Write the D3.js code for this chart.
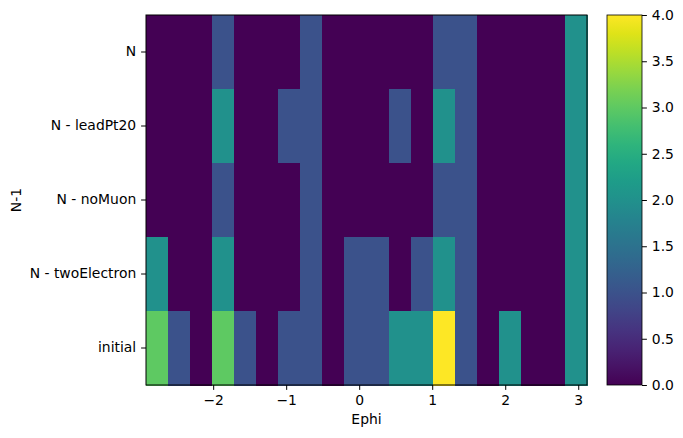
<!DOCTYPE html>
<html>
<head>
<meta charset="utf-8">
<script src="https://cdn.jsdelivr.net/npm/d3@7"></script>
<style>
  body { margin: 0; background: #fff; }
  svg text { font-family: "DejaVu Sans", sans-serif; font-size: 13.9px; fill: #000; }
</style>
</head>
<body>
<div id="chart"></div>
<script>
// N-1 categories, top to bottom
const categories = ["N", "N - leadPt20", "N - noMuon", "N - twoElectron", "initial"];

// Ephi histogram range (20 bins)
const xMin = -2.92;
const xMax = 3.12;
const nBins = 20;

// counts per bin for each category
const countsN           = [0,0,0,1,0,0,0,1,0,0,0,0,0,1,1,0,0,0,0,2];
const countsLeadPt20    = [0,0,0,2,0,0,1,1,0,0,0,1,0,2,1,0,0,0,0,2];
const countsNoMuon      = [0,0,0,1,0,0,0,1,0,0,0,0,0,1,1,0,0,0,0,2];
const countsTwoElectron = [2,0,0,2,0,0,0,1,0,1,1,0,1,2,1,0,0,0,0,2];
const countsInitial     = [3,1,0,3,1,0,1,1,0,1,1,2,2,4,1,0,2,0,0,2];

const xTicks = [-2, -1, 0, 1, 2, 3];
const colorTicks = [0, 0.5, 1, 1.5, 2, 2.5, 3, 3.5, 4];

const rows = [countsN, countsLeadPt20, countsNoMuon, countsTwoElectron, countsInitial];

const width = 683, height = 438;
const plot = { left: 146, right: 587, top: 15, bottom: 385 };
const cbar = { left: 607, right: 642 };

const svg = d3.select('#chart').append('svg')
  .attr('width', width)
  .attr('height', height);

const x = d3.scaleLinear().domain([xMin, xMax]).range([plot.left, plot.right]);
const y = d3.scaleBand().domain(categories).range([plot.top, plot.bottom]).padding(0);
const color = d3.scaleSequential(d3.interpolateViridis).domain([0, 4]);

const binW = (xMax - xMin) / nBins;

// flatten into cells
const cells = [];
rows.forEach((vals, i) => {
  vals.forEach((v, j) => {
    cells.push({ cat: categories[i], x0: xMin + j * binW, x1: xMin + (j + 1) * binW, v: v });
  });
});

svg.append('g')
  .selectAll('rect')
  .data(cells)
  .join('rect')
  .attr('x', d => x(d.x0))
  .attr('y', d => y(d.cat))
  .attr('width', d => x(d.x1) - x(d.x0) + 0.5)
  .attr('height', y.bandwidth() + 0.5)
  .attr('fill', d => color(d.v))
  .attr('shape-rendering', 'crispEdges');

// frame
svg.append('rect')
  .attr('x', plot.left)
  .attr('y', plot.top)
  .attr('width', plot.right - plot.left)
  .attr('height', plot.bottom - plot.top)
  .attr('fill', 'none')
  .attr('stroke', '#000')
  .attr('stroke-width', 1);

// x axis
const xAxis = svg.append('g')
  .attr('transform', `translate(0,${plot.bottom})`)
  .call(d3.axisBottom(x).tickValues(xTicks).tickSize(4.9).tickPadding(4.9)
    .tickFormat(d => d < 0 ? '\u2212' + Math.abs(d) : d));
xAxis.select('.domain').remove();
xAxis.selectAll('text').attr('font-size', null);

// y axis
const yAxis = svg.append('g')
  .attr('transform', `translate(${plot.left},0)`)
  .call(d3.axisLeft(y).tickSize(4.9).tickPadding(4.9));
yAxis.select('.domain').remove();
yAxis.selectAll('text').attr('font-size', null);

// axis labels
svg.append('text')
  .attr('x', (plot.left + plot.right) / 2)
  .attr('y', 424)
  .attr('text-anchor', 'middle')
  .text('Ephi');

svg.append('text')
  .attr('transform', `translate(21,${(plot.top + plot.bottom) / 2}) rotate(-90)`)
  .attr('text-anchor', 'middle')
  .text('N-1');

// colorbar
const defs = svg.append('defs');
const grad = defs.append('linearGradient')
  .attr('id', 'cbar-grad')
  .attr('x1', 0).attr('y1', 1).attr('x2', 0).attr('y2', 0);
d3.range(0, 1.0001, 0.05).forEach(t => {
  grad.append('stop').attr('offset', t).attr('stop-color', d3.interpolateViridis(t));
});

const cy = d3.scaleLinear().domain([0, 4]).range([plot.bottom, plot.top]);

svg.append('rect')
  .attr('x', cbar.left)
  .attr('y', plot.top)
  .attr('width', cbar.right - cbar.left)
  .attr('height', plot.bottom - plot.top)
  .attr('fill', 'url(#cbar-grad)')
  .attr('stroke', '#000')
  .attr('stroke-width', 0.8);

const cAxis = svg.append('g')
  .attr('transform', `translate(${cbar.right},0)`)
  .call(d3.axisRight(cy).tickValues(colorTicks).tickSize(4.9).tickPadding(4.9)
    .tickFormat(d3.format('.1f')));
cAxis.select('.domain').remove();
cAxis.selectAll('text').attr('font-size', null);
</script>
</body>
</html>
